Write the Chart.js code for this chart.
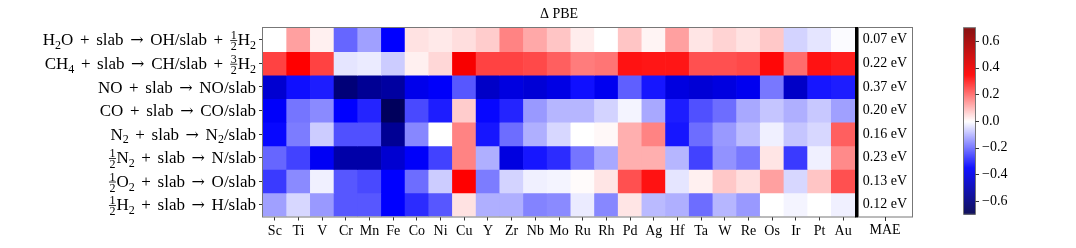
<!DOCTYPE html>
<html>
<head>
<meta charset="utf-8">
<script src="https://cdn.jsdelivr.net/npm/chart.js@4.4.0/dist/chart.umd.min.js"></script>
<style>
html, body { margin: 0; padding: 0; background: #fff; }
</style>
</head>
<body>
<canvas id="Chart" width="1076" height="248"></canvas>
<script>
// metals on the x axis
const metals = ['Sc', 'Ti', 'V', 'Cr', 'Mn', 'Fe', 'Co', 'Ni', 'Cu', 'Y', 'Zr', 'Nb', 'Mo',
    'Ru', 'Rh', 'Pd', 'Ag', 'Hf', 'Ta', 'W', 'Re', 'Os', 'Ir', 'Pt', 'Au'];
// reactions, _x = subscript, {a/b} = fraction
const reactions = [
    'H_2O + slab → OH/slab + {1/2}H_2',
    'CH_4 + slab → CH/slab + {3/2}H_2',
    'NO + slab → NO/slab',
    'CO + slab → CO/slab',
    'N_2 + slab → N_2/slab',
    '{1/2}N_2 + slab → N/slab',
    '{1/2}O_2 + slab → O/slab',
    '{1/2}H_2 + slab → H/slab'
];
// Delta PBE (eV), one array per reaction
const dH2O = [0.00, 0.13, 0.02, -0.21, -0.13, -0.35, 0.04, 0.03, 0.045, 0.07, 0.17, 0.12, 0.08,
    0.025, 0.00, 0.08, 0.015, 0.13, 0.035, 0.06, 0.04, 0.075, -0.06, -0.035, -0.005];
const dCH4 = [0.26, 0.35, 0.26, -0.035, -0.027, -0.07, 0.02, 0.055, 0.37, 0.26, 0.26, 0.25, 0.22,
    0.18, 0.19, 0.325, 0.32, 0.32, 0.24, 0.24, 0.25, 0.34, 0.20, 0.325, 0.31];
const dNO = [-0.44, -0.33, -0.31, -0.615, -0.56, -0.535, -0.39, -0.36, -0.23, -0.46, -0.41, -0.43, -0.40,
    -0.33, -0.38, -0.22, -0.32, -0.41, -0.43, -0.41, -0.38, -0.185, -0.46, -0.32, -0.31];
const dCO = [-0.36, -0.19, -0.16, -0.35, -0.30, -0.67, -0.25, -0.31, 0.07, -0.34, -0.30, -0.14, -0.10,
    -0.10, -0.06, -0.015, -0.12, -0.31, -0.24, -0.20, -0.12, -0.08, -0.11, -0.075, -0.13];
const dN2 = [-0.34, -0.18, -0.07, -0.24, -0.24, -0.56, -0.165, 0.00, 0.17, -0.32, -0.20, -0.11, -0.055,
    0.00, 0.01, 0.11, 0.17, -0.32, -0.20, -0.14, -0.09, -0.02, -0.08, -0.055, 0.22];
const dN = [-0.21, -0.26, -0.37, -0.52, -0.52, -0.44, -0.36, -0.26, 0.17, -0.11, -0.41, -0.32, -0.29,
    -0.19, -0.12, 0.11, 0.11, -0.10, -0.26, -0.15, -0.185, 0.035, -0.27, -0.02, 0.16];
const dO = [-0.27, -0.16, -0.02, -0.23, -0.25, -0.35, -0.20, -0.07, 0.35, -0.18, -0.06, -0.02, -0.015,
    0.005, 0.035, 0.24, 0.325, -0.035, 0.02, 0.075, 0.045, 0.13, -0.055, 0.08, 0.24];
const dH = [-0.13, -0.055, -0.14, -0.23, -0.23, -0.35, -0.29, -0.23, 0.04, -0.11, -0.11, -0.17, -0.16,
    -0.027, -0.165, 0.035, -0.095, -0.11, -0.20, -0.10, -0.14, 0.00, -0.015, 0.00, -0.02];
const mae = ['0.07', '0.22', '0.37', '0.20', '0.16', '0.23', '0.13', '0.12'];
const cbarTicks = [-0.6, -0.4, -0.2, 0.0, 0.2, 0.4, 0.6];
const vmin = -0.7, vmax = 0.7;

const rows = [dH2O, dCH4, dNO, dCO, dN2, dN, dO, dH];
const serif = '"Liberation Serif", "DejaVu Serif", serif';

// matplotlib "seismic"
function seismic(v) {
    let t = (v - vmin) / (vmax - vmin);
    t = Math.max(0, Math.min(1, t));
    let r, g, b;
    if (t < 0.25) { const k = t / 0.25; r = 0; g = 0; b = 0.3 + 0.7 * k; }
    else if (t < 0.5) { const k = (t - 0.25) / 0.25; r = k; g = k; b = 1; }
    else if (t < 0.75) { const k = (t - 0.5) / 0.25; r = 1; g = 1 - k; b = 1 - k; }
    else { const k = (t - 0.75) / 0.25; r = 1 - 0.5 * k; g = 0; b = 0; }
    return 'rgb(' + Math.round(r * 255) + ',' + Math.round(g * 255) + ',' + Math.round(b * 255) + ')';
}

function parseRich(str) {
    const parts = [];
    let buf = '';
    const flush = () => { if (buf) { parts.push({ t: 'n', s: buf }); buf = ''; } };
    for (let i = 0; i < str.length; i++) {
        const c = str[i];
        if (c == '_') {
            flush();
            parts.push({ t: 'sub', s: str[i + 1] });
            i++;
        } else if (c == '{') {
            flush();
            const end = str.indexOf('}', i);
            const f = str.slice(i + 1, end).split('/');
            parts.push({ t: 'frac', a: f[0], b: f[1] });
            i = end;
        } else if (c == ' ') {
            flush();
            parts.push({ t: 'sp' });
        } else if (c == '→') {
            flush();
            parts.push({ t: 'arrow', s: c });
        } else {
            buf += c;
        }
    }
    flush();
    return parts;
}

function drawRich(ctx, str, xRight, yMid, size) {
    const parts = parseRich(str);
    const big = size + 'px ' + serif;
    const small = Math.round(size * 0.7) + 'px ' + serif;
    const arrowFont = (size - 1) + 'px "DejaVu Serif", serif';
    let total = 0;
    parts.forEach(p => {
        if (p.t == 'n') { ctx.font = big; p.w = ctx.measureText(p.s).width; }
        else if (p.t == 'sp') { p.w = size * 0.39; }
        else if (p.t == 'arrow') { ctx.font = arrowFont; p.w = ctx.measureText(p.s).width; }
        else if (p.t == 'sub') { ctx.font = small; p.w = ctx.measureText(p.s).width; }
        else { ctx.font = small; p.w = Math.max(ctx.measureText(p.a).width, ctx.measureText(p.b).width) + 2; }
        total += p.w;
    });
    let x = xRight - total;
    const base = yMid + size * 0.33;
    ctx.fillStyle = '#000';
    ctx.textAlign = 'left';
    ctx.textBaseline = 'alphabetic';
    parts.forEach(p => {
        if (p.t == 'n') { ctx.font = big; ctx.fillText(p.s, x, base); }
        else if (p.t == 'arrow') { ctx.font = arrowFont; ctx.fillText(p.s, x, base); }
        else if (p.t == 'sub') { ctx.font = small; ctx.fillText(p.s, x, base + size * 0.22); }
        else if (p.t == 'frac') {
            ctx.font = small;
            const bar = base - size * 0.28;
            ctx.textAlign = 'center';
            ctx.fillText(p.a, x + p.w / 2, bar - 1.5);
            ctx.fillText(p.b, x + p.w / 2, bar + 1 + size * 0.5);
            ctx.textAlign = 'left';
            ctx.fillRect(x + 0.5, bar - 0.4, p.w - 1, 0.8);
        }
        x += p.w;
    });
}

const extras = {
    id: 'extras',
    afterDraw(chart) {
        const c = chart.ctx;
        const a = chart.chartArea;
        const y = chart.scales.y;
        c.save();
        // frame
        c.strokeStyle = '#777';
        c.lineWidth = 1;
        c.strokeRect(a.left - 0.5, a.top - 0.5, a.right - a.left + 1, a.bottom - a.top + 1);
        // title
        c.fillStyle = '#000';
        c.font = '14px ' + serif;
        c.textAlign = 'center';
        c.textBaseline = 'middle';
        c.fillText('Δ PBE', (a.left + a.right) / 2, 14);
        // row labels
        reactions.forEach((r, i) => {
            drawRich(c, r, a.left - 7, y.getPixelForValue(i + 0.5), 17);
        });
        // MAE column
        const mx = a.right + 3, mw = 54;
        c.fillStyle = '#000';
        c.fillRect(a.right, a.top - 1, 3, a.bottom - a.top + 2);
        c.strokeStyle = '#777';
        c.strokeRect(mx + 0.5, a.top - 0.5, mw, a.bottom - a.top + 1);
        c.font = '14px ' + serif;
        c.textAlign = 'center';
        c.textBaseline = 'middle';
        mae.forEach((m, i) => {
            c.fillText(m + ' eV', mx + mw / 2, y.getPixelForValue(i + 0.5));
        });
        c.strokeStyle = '#333';
        c.beginPath();
        c.moveTo(mx + mw / 2 + 0.5, a.bottom + 0.5);
        c.lineTo(mx + mw / 2 + 0.5, a.bottom + 4.5);
        c.stroke();
        c.textBaseline = 'top';
        c.fillText('MAE', mx + mw / 2, a.bottom + 7);
        // colorbar
        const bx = 964, bw = 11, btop = 27.7, bbot = 214.3;
        for (let py = btop; py < bbot; py += 1) {
            const v = vmax - (py - btop) / (bbot - btop) * (vmax - vmin);
            c.fillStyle = seismic(v);
            c.fillRect(bx, py, bw, 1.2);
        }
        c.strokeStyle = '#777';
        c.strokeRect(bx - 0.5, btop, bw + 1, bbot - btop);
        c.fillStyle = '#000';
        c.strokeStyle = '#333';
        c.textAlign = 'left';
        c.textBaseline = 'middle';
        cbarTicks.forEach(t => {
            const py = bbot - (t - vmin) / (vmax - vmin) * (bbot - btop);
            c.beginPath();
            c.moveTo(bx + bw + 0.5, Math.round(py) + 0.5);
            c.lineTo(bx + bw + 4, Math.round(py) + 0.5);
            c.stroke();
            const s = t < 0 ? '\u2212' + Math.abs(t).toFixed(1) : t.toFixed(1);
            c.fillText(s, bx + bw + 7, py);
        });
        c.restore();
    }
};

const ctx = document.getElementById('Chart').getContext('2d');
const myChart = new Chart(ctx, {
    type: 'bar',
    data: {
        labels: metals,
        datasets: rows.map((vals, i) => ({
            label: reactions[i],
            data: vals.map(() => 1),
            backgroundColor: vals.map(seismic),
            borderWidth: 0,
            barPercentage: 1,
            categoryPercentage: 1
        }))
    },
    options: {
        responsive: false,
        animation: false,
        events: [],
        layout: { padding: { left: 0, top: 28, right: 221, bottom: 0 } },
        plugins: { legend: { display: false }, tooltip: { enabled: false } },
        scales: {
            x: {
                stacked: true,
                offset: true,
                grid: { offset: false, drawOnChartArea: false, tickLength: 4, color: '#333' },
                border: { display: false },
                ticks: { color: '#000', font: { family: serif, size: 14 }, padding: 2, autoSkip: false, maxRotation: 0 },
                afterFit: s => { s.height = 31.5; }
            },
            y: {
                type: 'linear',
                stacked: true,
                reverse: true,
                min: 0,
                max: 8,
                afterBuildTicks: s => { s.ticks = reactions.map((r, i) => ({ value: i + 0.5 })); },
                grid: { drawOnChartArea: false, tickLength: 4, color: '#333' },
                border: { display: false },
                ticks: { callback: () => '' },
                afterFit: s => { s.width = 263; }
            }
        }
    },
    plugins: [extras]
});
</script>
</body>
</html>
